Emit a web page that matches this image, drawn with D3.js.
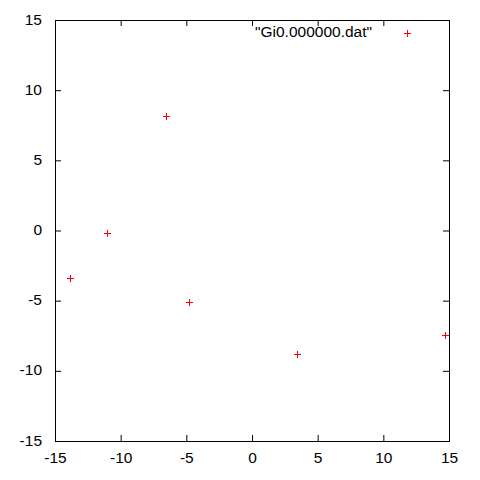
<!DOCTYPE html>
<html>
<head>
<meta charset="utf-8">
<script src="https://cdn.jsdelivr.net/npm/d3@7"></script>
<style>
html,body{margin:0;padding:0;background:#fff;}
svg{display:block;}
text{font-family:"Liberation Sans",Arial,sans-serif;}
</style>
</head>
<body>
<script>
const xValues = [-6.53, -11.02, -13.84, -4.8, 3.45, 14.7];
const yValues = [8.14, -0.15, -3.42, -5.1, -8.82, -7.47];
const xTicks = [-15, -10, -5, 0, 5, 10, 15];
const yTicks = [-15, -10, -5, 0, 5, 10, 15];
const seriesName = '"Gi0.000000.dat"';

(function () {
const W = 480, H = 480;
const pLeft = 55, pRight = 449, pTop = 20, pBottom = 441;
const fontSize = 15.5;
const fmt = d => String(d);

const svg = d3.select("body").append("svg").attr("width", W).attr("height", H);
const x = d3.scaleLinear().domain([-15, 15]).range([pLeft, pRight]);
const y = d3.scaleLinear().domain([-15, 15]).range([pBottom, pTop]);

function styleAxis(g, showLabels) {
  g.select(".domain").remove();
  g.selectAll(".tick line").attr("stroke", "#000").attr("stroke-width", 1);
  if (!showLabels) g.selectAll(".tick text").remove();
  g.selectAll(".tick text").attr("fill", "#000").attr("font-size", fontSize)
    .attr("font-family", '"Liberation Sans",Arial,sans-serif');
}

const gb = svg.append("g").attr("transform", `translate(0,${pBottom})`)
  .call(d3.axisBottom(x).tickValues(xTicks).tickSizeInner(-6).tickSizeOuter(0).tickFormat(fmt));
styleAxis(gb, true);
gb.selectAll(".tick text").attr("y", 22).attr("dy", null);

const gt = svg.append("g").attr("transform", `translate(0,${pTop})`)
  .call(d3.axisTop(x).tickValues(xTicks).tickSizeInner(-6).tickSizeOuter(0));
styleAxis(gt, false);

const gl = svg.append("g").attr("transform", `translate(${pLeft},0)`)
  .call(d3.axisLeft(y).tickValues(yTicks).tickSizeInner(-6).tickSizeOuter(0).tickFormat(fmt));
styleAxis(gl, true);
gl.selectAll(".tick text").attr("x", -13).attr("dy", "4").attr("text-anchor", "end");

const gr = svg.append("g").attr("transform", `translate(${pRight},0)`)
  .call(d3.axisRight(y).tickValues(yTicks).tickSizeInner(-6).tickSizeOuter(0));
styleAxis(gr, false);

svg.append("rect").attr("x", pLeft + 0.5).attr("y", pTop + 0.5)
  .attr("width", pRight - pLeft).attr("height", pBottom - pTop)
  .attr("fill", "none").attr("stroke", "#000").attr("stroke-width", 1);

const data = xValues.map((v, i) => ({x: v, y: yValues[i]}));
const s = 3.5;
svg.append("g").selectAll("path").data(data).join("path")
  .attr("d", d => {
    const cx = Math.round(x(d.x)) + 0.5, cy = Math.round(y(d.y)) + 0.5;
    return `M${cx - s},${cy}H${cx + s}M${cx},${cy - s}V${cy + s}`;
  })
  .attr("stroke", "#ff0000").attr("stroke-width", 1).attr("fill", "none");

svg.append("text").attr("x", 372).attr("y", 37).attr("text-anchor", "end")
  .attr("font-size", fontSize).attr("fill", "#000").text(seriesName);
const lx = 407.5, ly = 33.5;
svg.append("path").attr("d", `M${lx - s},${ly}H${lx + s}M${lx},${ly - s}V${ly + s}`)
  .attr("stroke", "#ff0000").attr("stroke-width", 1);
})();
</script>
</body>
</html>
